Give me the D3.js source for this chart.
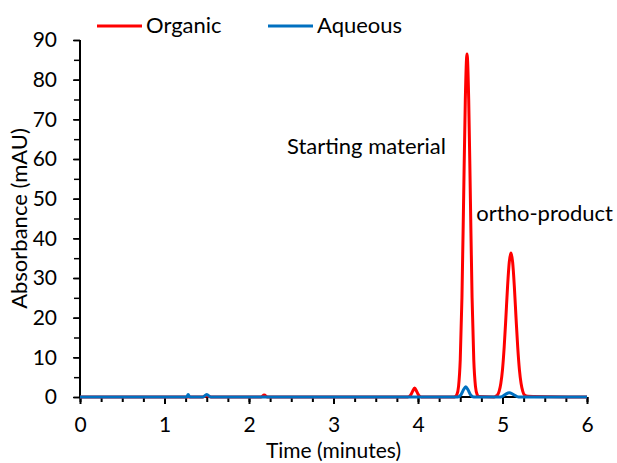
<!DOCTYPE html>
<html>
<head>
<meta charset="utf-8">
<script src="https://cdn.jsdelivr.net/npm/d3@7"></script>
<style>
  body { margin: 0; background: #fff; }
  text { font-family: Lato, "Open Sans", sans-serif; fill: #000; }
</style>
</head>
<body>
<svg id="chart" width="617" height="463"></svg>
<script>
// minutes vs mAU
var organic_t = [0, 1.45, 1.5, 1.55, 2.14, 2.18, 2.22, 3.88, 3.91, 3.935, 3.96, 3.985, 4.01, 4.04,
                 4.42, 4.44, 4.46, 4.48, 4.50, 4.52, 4.54, 4.56, 4.58, 4.60, 4.62, 4.64, 4.66, 4.68, 4.70, 4.72,
                 4.90, 4.92, 4.94, 4.96, 4.98, 5.00, 5.02, 5.04, 5.06, 5.08, 5.10, 5.12, 5.14, 5.16, 5.18, 5.20, 5.22, 5.24, 5.26, 5.30, 6];
var organic_v = [0, 0, 0.3, 0, 0, 0.5, 0, 0, 0.4, 1.4, 2.3, 1.4, 0.4, 0,
                 0, 0.1, 0.6, 2.7, 9.4, 25, 50, 75, 86.5, 75, 50, 25, 9.4, 2.7, 0.6, 0.1, 0,
                 0.2, 0.5, 1.4, 3.4, 6.9, 12.6, 20, 27.9, 34, 36.3, 34, 27.9, 20, 12.6, 6.9, 3.4, 1.4, 0.5, 0.2, 0];

var aqueous_t = [0, 1.26, 1.28, 1.30, 1.45, 1.50, 1.55, 4.47, 4.51, 4.54, 4.565, 4.59, 4.62, 4.66,
                 4.98, 5.03, 5.08, 5.13, 5.19, 6];
var aqueous_v = [0, 0, 0.6, 0, 0, 0.6, 0, 0, 0.6, 1.9, 2.6, 1.9, 0.6, 0,
                 0, 0.6, 1.1, 0.6, 0, 0];

var series_names = ["Organic", "Aqueous"];
var series_colors = ["#ff0000", "#0070c0"];
var x_ticks = [0, 1, 2, 3, 4, 5, 6];
var y_ticks = [0, 10, 20, 30, 40, 50, 60, 70, 80, 90];

var notes = [
	{ label: "Starting material", t: 2.45, v: 61.2 },
	{ label: "ortho-product", t: 4.69, v: 44.4 }
];

var svg = d3.select("#chart"),
    plot_left = 80, plot_right = 587, plot_top = 40, plot_bottom = 397;

var x_scale = d3.scaleLinear().domain([0, 6]).range([plot_left, plot_right]),
    y_scale = d3.scaleLinear().domain([0, 90]).range([plot_bottom, plot_top]);

// y axis: major every 10, minor every 5
svg.append("g")
   .attr("transform", "translate(" + plot_left + ",0)")
   .call(d3.axisLeft(y_scale).tickValues(d3.range(0, 91, 5)).tickSize(6).tickFormat(""))
   .call(g => g.select(".domain").remove())
   .call(g => g.selectAll("line").attr("stroke", "#000").attr("stroke-width", 1.5));
svg.append("g")
   .attr("transform", "translate(" + plot_left + ",0)")
   .call(d3.axisLeft(y_scale).tickValues(y_ticks).tickSize(7).tickPadding(16))
   .call(g => g.select(".domain").attr("stroke", "#000").attr("stroke-width", 2).attr("d", "M0," + plot_top + "V" + plot_bottom))
   .call(g => g.selectAll("line").attr("stroke", "#000").attr("stroke-width", 1.5))
   .call(g => g.selectAll("text").style("font-size", "21px").attr("font-family", null));

// x axis: major every minute, minor every quarter
svg.append("g")
   .attr("transform", "translate(0," + plot_bottom + ")")
   .call(d3.axisBottom(x_scale).tickValues(d3.range(0, 6.01, 0.25)).tickSize(5).tickFormat(""))
   .call(g => g.select(".domain").remove())
   .call(g => g.selectAll("line").attr("stroke", "#000").attr("stroke-width", 2));
svg.append("g")
   .attr("transform", "translate(0," + plot_bottom + ")")
   .call(d3.axisBottom(x_scale).tickValues(x_ticks).tickSize(7).tickPadding(13).tickFormat(d3.format("d")))
   .call(g => g.select(".domain").attr("stroke", "#000").attr("stroke-width", 2).attr("d", "M" + plot_left + ",0H" + plot_right))
   .call(g => g.selectAll("line").attr("stroke", "#000").attr("stroke-width", 2))
   .call(g => g.selectAll("text").style("font-size", "21px").attr("font-family", null));

var line = d3.line()
	.x(d => x_scale(d[0]))
	.y(d => y_scale(d[1]))
	.curve(d3.curveMonotoneX);

var series = [d3.zip(organic_t, organic_v), d3.zip(aqueous_t, aqueous_v)];

svg.selectAll(".trace")
   .data(series)
   .enter()
   .append("path")
   .attr("class", "trace")
   .attr("d", line)
   .attr("fill", "none")
   .attr("stroke", (d, i) => series_colors[i])
   .attr("stroke-width", 3)
   .attr("stroke-linejoin", "round");

// legend
var legend = svg.selectAll(".legend")
	.data(series_names)
	.enter()
	.append("g")
	.attr("class", "legend")
	.attr("transform", (d, i) => "translate(" + [97, 268][i] + ",26)");
legend.append("line")
	.attr("x1", 0).attr("x2", 45)
	.attr("stroke", (d, i) => series_colors[i])
	.attr("stroke-width", 3);
legend.append("text")
	.attr("x", 49).attr("y", 7)
	.style("font-size", "22px")
	.text(d => d);

svg.selectAll(".note")
   .data(notes)
   .enter()
   .append("text")
   .attr("class", "note")
   .attr("x", d => x_scale(d.t))
   .attr("y", d => y_scale(d.v))
   .style("font-size", "22px")
   .text(d => d.label);

svg.append("text")
   .attr("x", (plot_left + plot_right) / 2)
   .attr("y", 458)
   .attr("text-anchor", "middle")
   .style("font-size", "21px")
   .text("Time (minutes)");

svg.append("text")
   .attr("transform", "translate(27," + ((plot_top + plot_bottom) / 2) + ") rotate(-90)")
   .attr("text-anchor", "middle")
   .style("font-size", "22px")
   .text("Absorbance (mAU)");
</script>
</body>
</html>
